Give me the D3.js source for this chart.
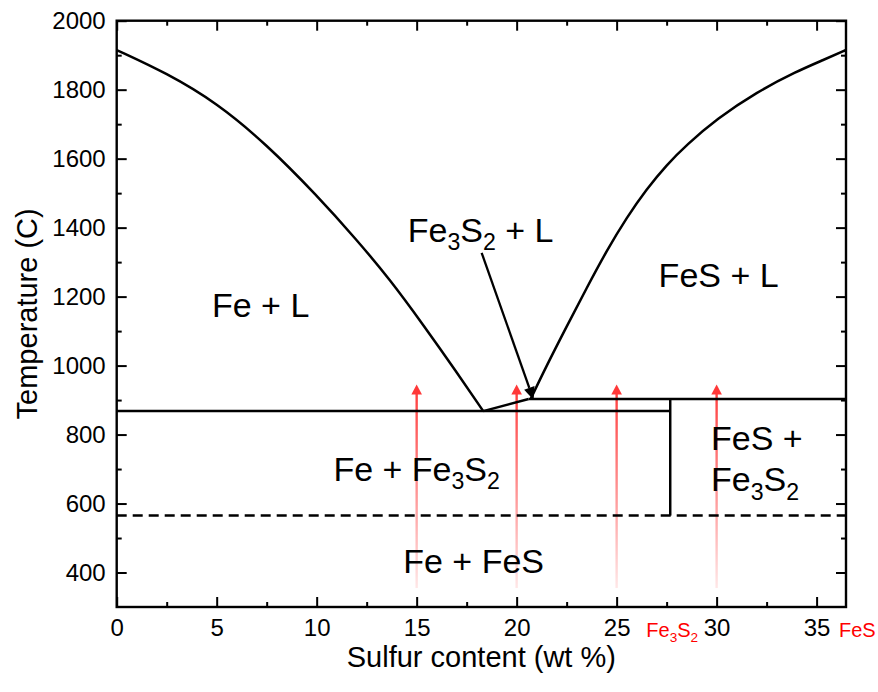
<!DOCTYPE html>
<html>
<head>
<meta charset="utf-8">
<script src="https://cdn.jsdelivr.net/npm/d3@7"></script>
<style>
  html, body { margin: 0; padding: 0; background: #fff; }
  svg { display: block; font-family: "Liberation Sans", Arial, Helvetica, sans-serif; }
</style>
</head>
<body>
<svg id="chart" width="878" height="692"></svg>
<script>
// ---- Fe–S phase diagram data (wt % S, °C) ----
const xMajorTicks = [0, 5, 10, 15, 20, 25, 30, 35];
const xMinorTicks = [2.5, 7.5, 12.5, 17.5, 22.5, 27.5, 32.5];
const yMajorTicks = [400, 600, 800, 1000, 1200, 1400, 1600, 1800, 2000];
const yMinorTicks = [500, 700, 900, 1100, 1300, 1500, 1700, 1900];

// Liquidus on the iron-rich side, down to the eutectic
const liquidusFeSide = [
  [0, 1915], [2.5, 1848], [5.0, 1762], [7.5, 1641], [10.0, 1494],
  [12.0, 1365], [13.67, 1249], [15.33, 1118], [17.0, 981], [18.33, 868]
];
// Liquidus on the FeS side, from the peritectic up to FeS melting
const liquidusFeSSide = [
  [20.7, 903], [21.5, 1000], [22.5, 1113], [23.5, 1225], [24.5, 1333],
  [25.5, 1429], [26.5, 1512], [27.5, 1582], [28.5, 1640], [30.0, 1715],
  [32.0, 1793], [34.0, 1853], [35.33, 1886], [36.47, 1915]
];

const eutectic = [18.33, 868];
const peritectic = [20.6, 903];
const compFe3S2 = 27.68;
const compFeS = 36.47;
const lowTransitionT = 565;

// Heating paths marked on the diagram
const pathCompositions = [15, 20, 25, 30];
const pathStartT = 355;
const pathEndT = 945;

// Pointer from the Fe3S2 + L label to the peritectic point
const pointerFrom = [18.25, 1327];
const pointerTo = [20.85, 900];

// Phase-field labels: text segments [string, isSubscript]
const fieldLabels = [
  { segs: [["Fe + L", 0]], x: 7.2, t: 1141, anchor: "middle" },
  { segs: [["Fe", 0], ["3", 1], ["S", 0], ["2", 1], [" + L", 0]], x: 18.2, t: 1359, anchor: "middle" },
  { segs: [["FeS + L", 0]], x: 30.1, t: 1228, anchor: "middle" },
  { segs: [["Fe + Fe", 0], ["3", 1], ["S", 0], ["2", 1]], x: 15.0, t: 666, anchor: "middle" },
  { segs: [["FeS +", 0]], x: 29.72, t: 754, anchor: "start" },
  { segs: [["Fe", 0], ["3", 1], ["S", 0], ["2", 1]], x: 29.72, t: 635, anchor: "start" },
  { segs: [["Fe + FeS", 0]], x: 17.85, t: 400, anchor: "middle" }
];

// Compound markers under the composition axis
const compoundTicks = [
  { segs: [["Fe", 0], ["3", 1], ["S", 0], ["2", 1]], x: compFe3S2, anchor: "middle", dx: 2 },
  { segs: [["FeS", 0]], x: compFeS, anchor: "start", dx: -7 }
];

// ---- Layout ----
const svg = d3.select("#chart");
const plotL = 116.7, plotR = 846, plotT = 20.7, plotB = 607;

const x = d3.scaleLinear().domain([0, compFeS]).range([plotL, plotR]);
const y = d3.scaleLinear().domain([300, 2000]).range([plotB, plotT]);

const line = d3.line().x(d => x(d[0])).y(d => y(d[1]));
const smooth = d3.line().x(d => x(d[0])).y(d => y(d[1])).curve(d3.curveBasis);

function richText(sel, segs, size) {
  let prevShift = 0;
  segs.forEach(([s, sub]) => {
    const shift = sub ? size * 0.24 : 0;
    sel.append("tspan")
      .attr("font-size", sub ? size * 0.68 : size)
      .attr("dy", shift - prevShift)
      .text(s);
    prevShift = shift;
  });
}

// ---- Axes ----
function styleAxis(g) {
  g.select(".domain").remove();
  g.selectAll(".tick line").attr("stroke", "#000").attr("stroke-width", 2);
  g.selectAll(".tick text").attr("fill", "#000");
}

svg.append("g")
  .attr("transform", `translate(0,${plotB})`)
  .call(d3.axisBottom(x).tickValues(xMajorTicks).tickSizeInner(-10).tickSizeOuter(0)
    .tickPadding(12).tickFormat(d3.format("d")))
  .call(styleAxis)
  .call(g => g.attr("font-family", null).selectAll(".tick text").attr("font-size", 24));

svg.append("g")
  .attr("transform", `translate(0,${plotB})`)
  .call(d3.axisBottom(x).tickValues(xMinorTicks).tickSizeInner(-5).tickSizeOuter(0).tickFormat(""))
  .call(styleAxis);

svg.append("g")
  .attr("transform", `translate(0,${plotT})`)
  .call(d3.axisTop(x).tickValues(xMajorTicks).tickSizeInner(-10).tickSizeOuter(0).tickFormat(""))
  .call(styleAxis);
svg.append("g")
  .attr("transform", `translate(0,${plotT})`)
  .call(d3.axisTop(x).tickValues(xMinorTicks).tickSizeInner(-5).tickSizeOuter(0).tickFormat(""))
  .call(styleAxis);

svg.append("g")
  .attr("transform", `translate(${plotL},0)`)
  .call(d3.axisLeft(y).tickValues(yMajorTicks).tickSizeInner(-10).tickSizeOuter(0)
    .tickPadding(11).tickFormat(d3.format("d")))
  .call(styleAxis)
  .call(g => g.attr("font-family", null).selectAll(".tick text").attr("font-size", 24));
svg.append("g")
  .attr("transform", `translate(${plotL},0)`)
  .call(d3.axisLeft(y).tickValues(yMinorTicks).tickSizeInner(-5).tickSizeOuter(0).tickFormat(""))
  .call(styleAxis);

svg.append("g")
  .attr("transform", `translate(${plotR},0)`)
  .call(d3.axisRight(y).tickValues(yMajorTicks).tickSizeInner(-10).tickSizeOuter(0).tickFormat(""))
  .call(styleAxis);
svg.append("g")
  .attr("transform", `translate(${plotR},0)`)
  .call(d3.axisRight(y).tickValues(yMinorTicks).tickSizeInner(-5).tickSizeOuter(0).tickFormat(""))
  .call(styleAxis);

// Plot frame
svg.append("rect")
  .attr("x", plotL).attr("y", plotT)
  .attr("width", plotR - plotL).attr("height", plotB - plotT)
  .attr("fill", "none").attr("stroke", "#000").attr("stroke-width", 2.4);

// Axis titles
svg.append("text")
  .attr("x", (plotL + plotR) / 2).attr("y", 667)
  .attr("text-anchor", "middle").attr("font-size", 29)
  .text("Sulfur content (wt %)");
svg.append("text")
  .attr("transform", `translate(37,${(plotT + plotB) / 2}) rotate(-90)`)
  .attr("text-anchor", "middle").attr("font-size", 29)
  .text("Temperature (C)");

// Compound markers on the composition axis
compoundTicks.forEach(c => {
  const t = svg.append("text")
    .attr("x", x(c.x) + c.dx).attr("y", 637)
    .attr("text-anchor", c.anchor).attr("fill", "#ff0000")
    .style("white-space", "pre");
  richText(t, c.segs, 20);
});

// ---- Heating paths (red arrows fading downward) ----
const defs = svg.append("defs");
const grad = defs.append("linearGradient")
  .attr("id", "pathFade")
  .attr("gradientUnits", "userSpaceOnUse")
  .attr("x1", 0).attr("x2", 0)
  .attr("y1", y(pathEndT)).attr("y2", y(pathStartT));
grad.append("stop").attr("offset", 0).attr("stop-color", "#ff3838").attr("stop-opacity", 1);
grad.append("stop").attr("offset", 1).attr("stop-color", "#ff3838").attr("stop-opacity", 0.12);

const paths = svg.append("g");
pathCompositions.forEach(c => {
  const px = x(c), tipY = y(pathEndT);
  paths.append("line")
    .attr("x1", px).attr("x2", px)
    .attr("y1", y(pathStartT)).attr("y2", tipY + 8)
    .attr("stroke", "url(#pathFade)").attr("stroke-width", 2.4);
  paths.append("path")
    .attr("d", `M${px},${tipY} L${px - 5.3},${tipY + 10} L${px + 5.3},${tipY + 10} Z`)
    .attr("fill", "#ff3838");
});

// ---- Phase boundaries ----
const bounds = svg.append("g")
  .attr("fill", "none").attr("stroke", "#000").attr("stroke-width", 2.5)
  .attr("stroke-linejoin", "round");

bounds.append("path").attr("d", smooth(liquidusFeSide));
bounds.append("path").attr("d", smooth(liquidusFeSSide));
bounds.append("path").attr("d", line([[0, eutectic[1]], [compFe3S2, eutectic[1]]]));
bounds.append("path").attr("d", line([eutectic, peritectic]));
bounds.append("path").attr("d", line([peritectic, [compFeS, peritectic[1]]]));
bounds.append("path").attr("d", line([[compFe3S2, peritectic[1]], [compFe3S2, lowTransitionT]]));
bounds.append("path")
  .attr("d", line([[0, lowTransitionT], [compFeS, lowTransitionT]]))
  .attr("stroke-dasharray", "10,6");

// ---- Pointer arrow ----
{
  const x0 = x(pointerFrom[0]), y0 = y(pointerFrom[1]);
  const x1 = x(pointerTo[0]), y1 = y(pointerTo[1]);
  const ang = Math.atan2(y1 - y0, x1 - x0);
  const len = 13, half = 5.5;
  const bx = x1 - len * Math.cos(ang), by = y1 - len * Math.sin(ang);
  svg.append("line")
    .attr("x1", x0).attr("y1", y0).attr("x2", bx).attr("y2", by)
    .attr("stroke", "#000").attr("stroke-width", 2.3);
  svg.append("path")
    .attr("d", `M${x1},${y1} L${bx - half * Math.sin(ang)},${by + half * Math.cos(ang)} L${bx + half * Math.sin(ang)},${by - half * Math.cos(ang)} Z`)
    .attr("fill", "#000");
}

// ---- Phase-field labels ----
fieldLabels.forEach(l => {
  const t = svg.append("text")
    .attr("x", x(l.x)).attr("y", y(l.t))
    .attr("text-anchor", l.anchor)
    .attr("fill", "#000")
    .style("white-space", "pre");
  richText(t, l.segs, 34);
});
</script>
</body>
</html>
